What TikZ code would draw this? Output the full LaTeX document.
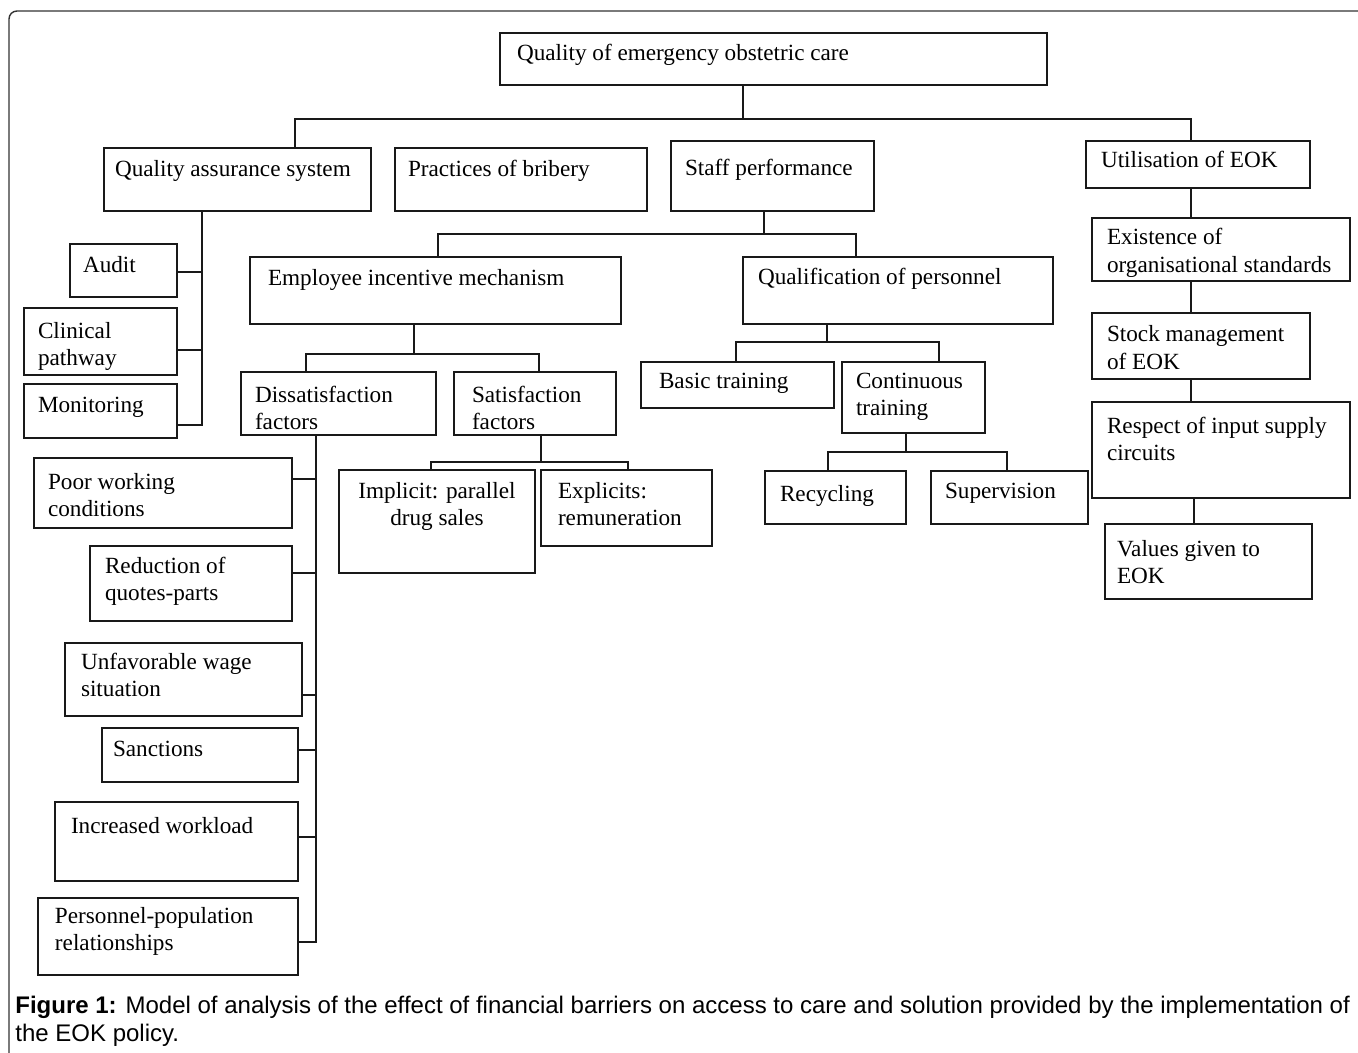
\documentclass[tikz,border=0pt]{standalone}
\usepackage{fontspec}
\setmainfont{Liberation Serif}
\newfontfamily\capfont{Liberation Sans}
\newlength\pxu
\setlength\pxu{0.5pt}
\tikzset{
  box/.style={draw=black!90, line width=0.8pt, inner sep=0pt, outer sep=0pt, anchor=north west,
    font=\fontsize{11.6pt}{13.75pt}\selectfont},
  conn/.style={draw=black!90, line width=0.8pt},
  frame/.style={draw=black!80, line width=0.7pt, rounded corners=4pt},
  captext/.style={anchor=base west, inner sep=0pt, font=\capfont\fontsize{12pt}{14pt}\selectfont}
}
% name, x, y, w, h, padx, baseline offset, text
\newcommand\bx[8]{\node[box] (#1) at (#2,#3) {\parbox[t][#5\pxu][t]{#4\pxu}{\leftskip=#6\pxu\rightskip=0pt plus 1fil\parfillskip=0pt plus 1fil\rule{0pt}{#7\pxu}#8}};}
\newcommand\cbx[7]{\node[box] (#1) at (#2,#3) {\parbox[t][#5\pxu][t]{#4\pxu}{\centering\rule{0pt}{#6\pxu}#7}};}
\begin{document}
\begin{tikzpicture}[x=0.5pt,y=-0.5pt]
\useasboundingbox (0,0) rectangle (1358,1053);
\begin{scope}
\clip (0,0) rectangle (1358,1053);
\draw[frame] (9,11) rectangle (1390,1090);
\end{scope}
% level 0
\bx{top}{500}{33}{547}{52}{17}{28}{Quality of emergency obstetric care}
% level 1
\bx{qas}{104}{148}{267}{63}{11}{29}{Quality assurance system}
\bx{brib}{395}{148}{252}{63}{13}{29}{Practices of bribery}
\bx{staff}{671}{141}{203}{70}{14}{35}{Staff performance}
\bx{util}{1086}{141}{224}{47}{15}{27}{Utilisation of EOK}
% quality assurance children
\bx{audit}{70}{244}{107}{53}{13}{29}{Audit}
\bx{clin}{24}{308}{153}{67}{14}{30}{Clinical\\pathway}
\bx{mon}{24}{384}{153}{54}{14}{28}{Monitoring}
% staff performance children
\bx{eim}{250}{257}{371}{67}{18}{29}{Employee incentive mechanism}
\bx{qop}{743}{257}{310}{67}{15}{28}{Qualification of personnel}
\bx{dis}{241}{372}{195}{63}{14}{30}{Dissatisfaction\\factors}
\bx{sat}{454}{372}{162}{63}{18}{30}{Satisfaction\\factors}
\bx{basic}{641}{362}{193}{46}{18}{26}{Basic training}
\bx{cont}{842}{362}{143}{71}{14}{26}{Continuous\\training}
\bx{recyc}{765}{471}{141}{53}{15}{30}{Recycling}
\bx{superv}{931}{471}{157}{53}{14}{27}{Supervision}
\cbx{impl}{339}{470}{196}{103}{28}{Implicit: parallel\\drug sales}
\bx{expl}{541}{470}{171}{76}{17}{28}{Explicits:\\remuneration}
% dissatisfaction factors
\bx{poor}{34}{458}{258}{70}{14}{31}{Poor working\\conditions}
\bx{red}{90}{546}{202}{75}{15}{27}{Reduction of\\quotes-parts}
\bx{unf}{65}{643}{237}{73}{16}{26}{Unfavorable wage\\situation}
\bx{sanc}{102}{728}{196}{54}{11}{28}{Sanctions}
\bx{inc}{55}{802}{243}{79}{16}{31}{Increased workload}
\bx{pers}{38}{898}{260}{77}{17}{25}{Personnel-population\\relationships}
% utilisation chain
\bx{exist}{1092}{218}{258}{63}{15}{27}{Existence of\\organisational standards}
\bx{stock}{1092}{313}{218}{66}{15}{29}{Stock management\\of EOK}
\bx{resp}{1092}{402}{258}{96}{15}{31}{Respect of input supply\\circuits}
\bx{values}{1105}{524}{207}{75}{12}{32}{Values given to\\EOK}
% connectors
\coordinate (busA) at (0,119);
\draw[conn] (743,0 |- top.south) -- (743,0 |- busA);
\draw[conn] (295,0 |- qas.north) |- (1191,0 |- busA) -- (1191,0 |- util.north);
% QAS
\draw[conn] (202,0 |- qas.south) |- (mon.east |- 0,425);
\draw[conn] (audit.east |- 0,272) -- (202,272);
\draw[conn] (clin.east |- 0,350) -- (202,350);
% staff performance
\draw[conn] (764,0 |- staff.south) -- (764,234);
\draw[conn] (438,0 |- eim.north) |- (856,234) -- (856,0 |- qop.north);
% EIM
\draw[conn] (414,0 |- eim.south) -- (414,354);
\draw[conn] (306,0 |- dis.north) |- (539,354) -- (539,0 |- sat.north);
% QoP
\draw[conn] (827,0 |- qop.south) -- (827,342);
\draw[conn] (736,0 |- basic.north) |- (939,342) -- (939,0 |- cont.north);
% continuous training
\draw[conn] (906,0 |- cont.south) -- (906,452);
\draw[conn] (828,0 |- recyc.north) |- (1007,452) -- (1007,0 |- superv.north);
% satisfaction
\draw[conn] (541,0 |- sat.south) -- (541,462);
\draw[conn] (431,0 |- impl.north) |- (628,462) -- (628,0 |- expl.north);
% dissatisfaction
\draw[conn] (316,0 |- dis.south) |- (pers.east |- 0,942);
\draw[conn] (poor.east |- 0,479) -- (316,479);
\draw[conn] (red.east |- 0,573) -- (316,573);
\draw[conn] (unf.east |- 0,695) -- (316,695);
\draw[conn] (sanc.east |- 0,750) -- (316,750);
\draw[conn] (inc.east |- 0,837) -- (316,837);
% utilisation chain
\draw[conn] (1191,0 |- util.south) -- (1191,0 |- exist.north);
\draw[conn] (1191,0 |- exist.south) -- (1191,0 |- stock.north);
\draw[conn] (1191,0 |- stock.south) -- (1191,0 |- resp.north);
\draw[conn] (1194,0 |- resp.south) -- (1194,0 |- values.north);
% caption
\node[captext] (cap1) at (15,1013) {\textbf{Figure 1:} Model of analysis of the effect of financial barriers on access to care and solution provided by the implementation of};
\node[captext] (cap2) at (15,1041) {the EOK policy.};
\end{tikzpicture}
\end{document}
